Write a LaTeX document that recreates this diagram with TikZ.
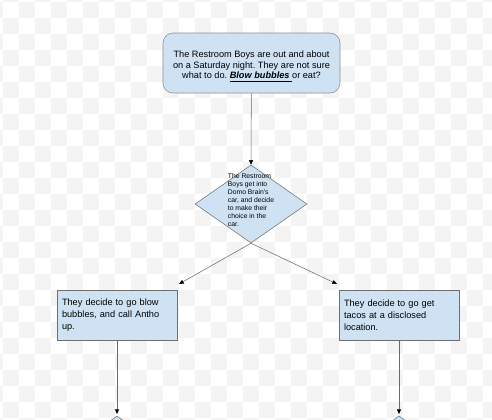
\documentclass[tikz,border=0pt]{standalone}
\usepackage{fontspec}
\setmainfont{Liberation Sans}
\usetikzlibrary{shapes.geometric,arrows.meta}
\frenchspacing
\definecolor{chk}{HTML}{F4F4F4}
\definecolor{boxfill}{HTML}{CFE2F3}
\definecolor{boxline}{HTML}{6F6F6F}
\definecolor{topline}{HTML}{8E8E8E}
\definecolor{wire}{HTML}{6A6A6A}
\tikzset{
  startbox/.style={draw=topline,fill=boxfill,rounded corners=7.5pt,minimum width=132.75pt,
    minimum height=45pt,inner sep=0pt},
  starttext/.style={align=center,inner sep=0pt,font=\fontsize{6.9}{8}\selectfont},
  stepbox/.style={draw=boxline,fill=boxfill,text width=82.5pt,inner xsep=3.75pt,inner ysep=0pt,
    minimum height=37.5pt,align=left,font=\fontsize{6.9}{9.2}\selectfont},
  choicebox/.style={draw=boxline,fill=boxfill,diamond,inner sep=0pt,minimum width=84pt,minimum height=58.5pt},
  choicetext/.style={inner sep=0pt,align=left,font=\fontsize{5.1}{6}\selectfont},
  flow/.style={draw=wire,-{Triangle[length=3.5pt,width=3pt,black]}}
}
\begin{document}
\begin{tikzpicture}[x=0.75pt,y=-0.75pt]
    \useasboundingbox (0,0) rectangle (492,419);
    \clip (0,0) rectangle (492,419);
    \foreach \i in {-1,...,30}
      \foreach \j in {-1,...,26}{
        \pgfmathtruncatemacro\k{mod(\i+\j+2,2)}
        \ifnum\k=1 \fill[chk] (3+16*\i,2+16*\j) rectangle +(16,16); \fi
      }
    \node[startbox](start)at(251.5,63){};
    \node[starttext](starttxt)at(start)[yshift=-2.4pt]{The Restroom Boys are out and about\\
        on a Saturday night. They are not sure\\
        what to do. \underline{\textbf{\textit{Blow bubbles}}\ }or eat?};
    \node[choicebox](choice)at(251,204){};
    \node[choicetext](choicetxt)at(choice)[yshift=2.6pt]{The Restroom\\Boys get into\\Domo Brain's\\car, and decide\\to make their\\choice in the\\car.};
    \node[stepbox](blow)at(117,315){They decide to go blow\\bubbles, and call Antho\\up.};
    \node[stepbox](tacos)at(399,315){They decide to go get\\tacos at a disclosed\\location.};
    \node[choicebox](blownext)at(117,455){};
    \node[choicebox](tacosnext)at(399,455){};
    \coordinate(toblow)at(179,284);
    \coordinate(totacos)at(337,284);
    \coordinate(toblownext)at(117,414);
    \coordinate(totacosnext)at(399,414);
    \draw[flow](start)--(choice.north);
    \draw[flow](choice.south)--(toblow);
    \draw[flow](choice.south)--(totacos);
    \draw[flow](blow)--(toblownext);
    \draw[flow](tacos)--(totacosnext);
\end{tikzpicture}
\end{document}
